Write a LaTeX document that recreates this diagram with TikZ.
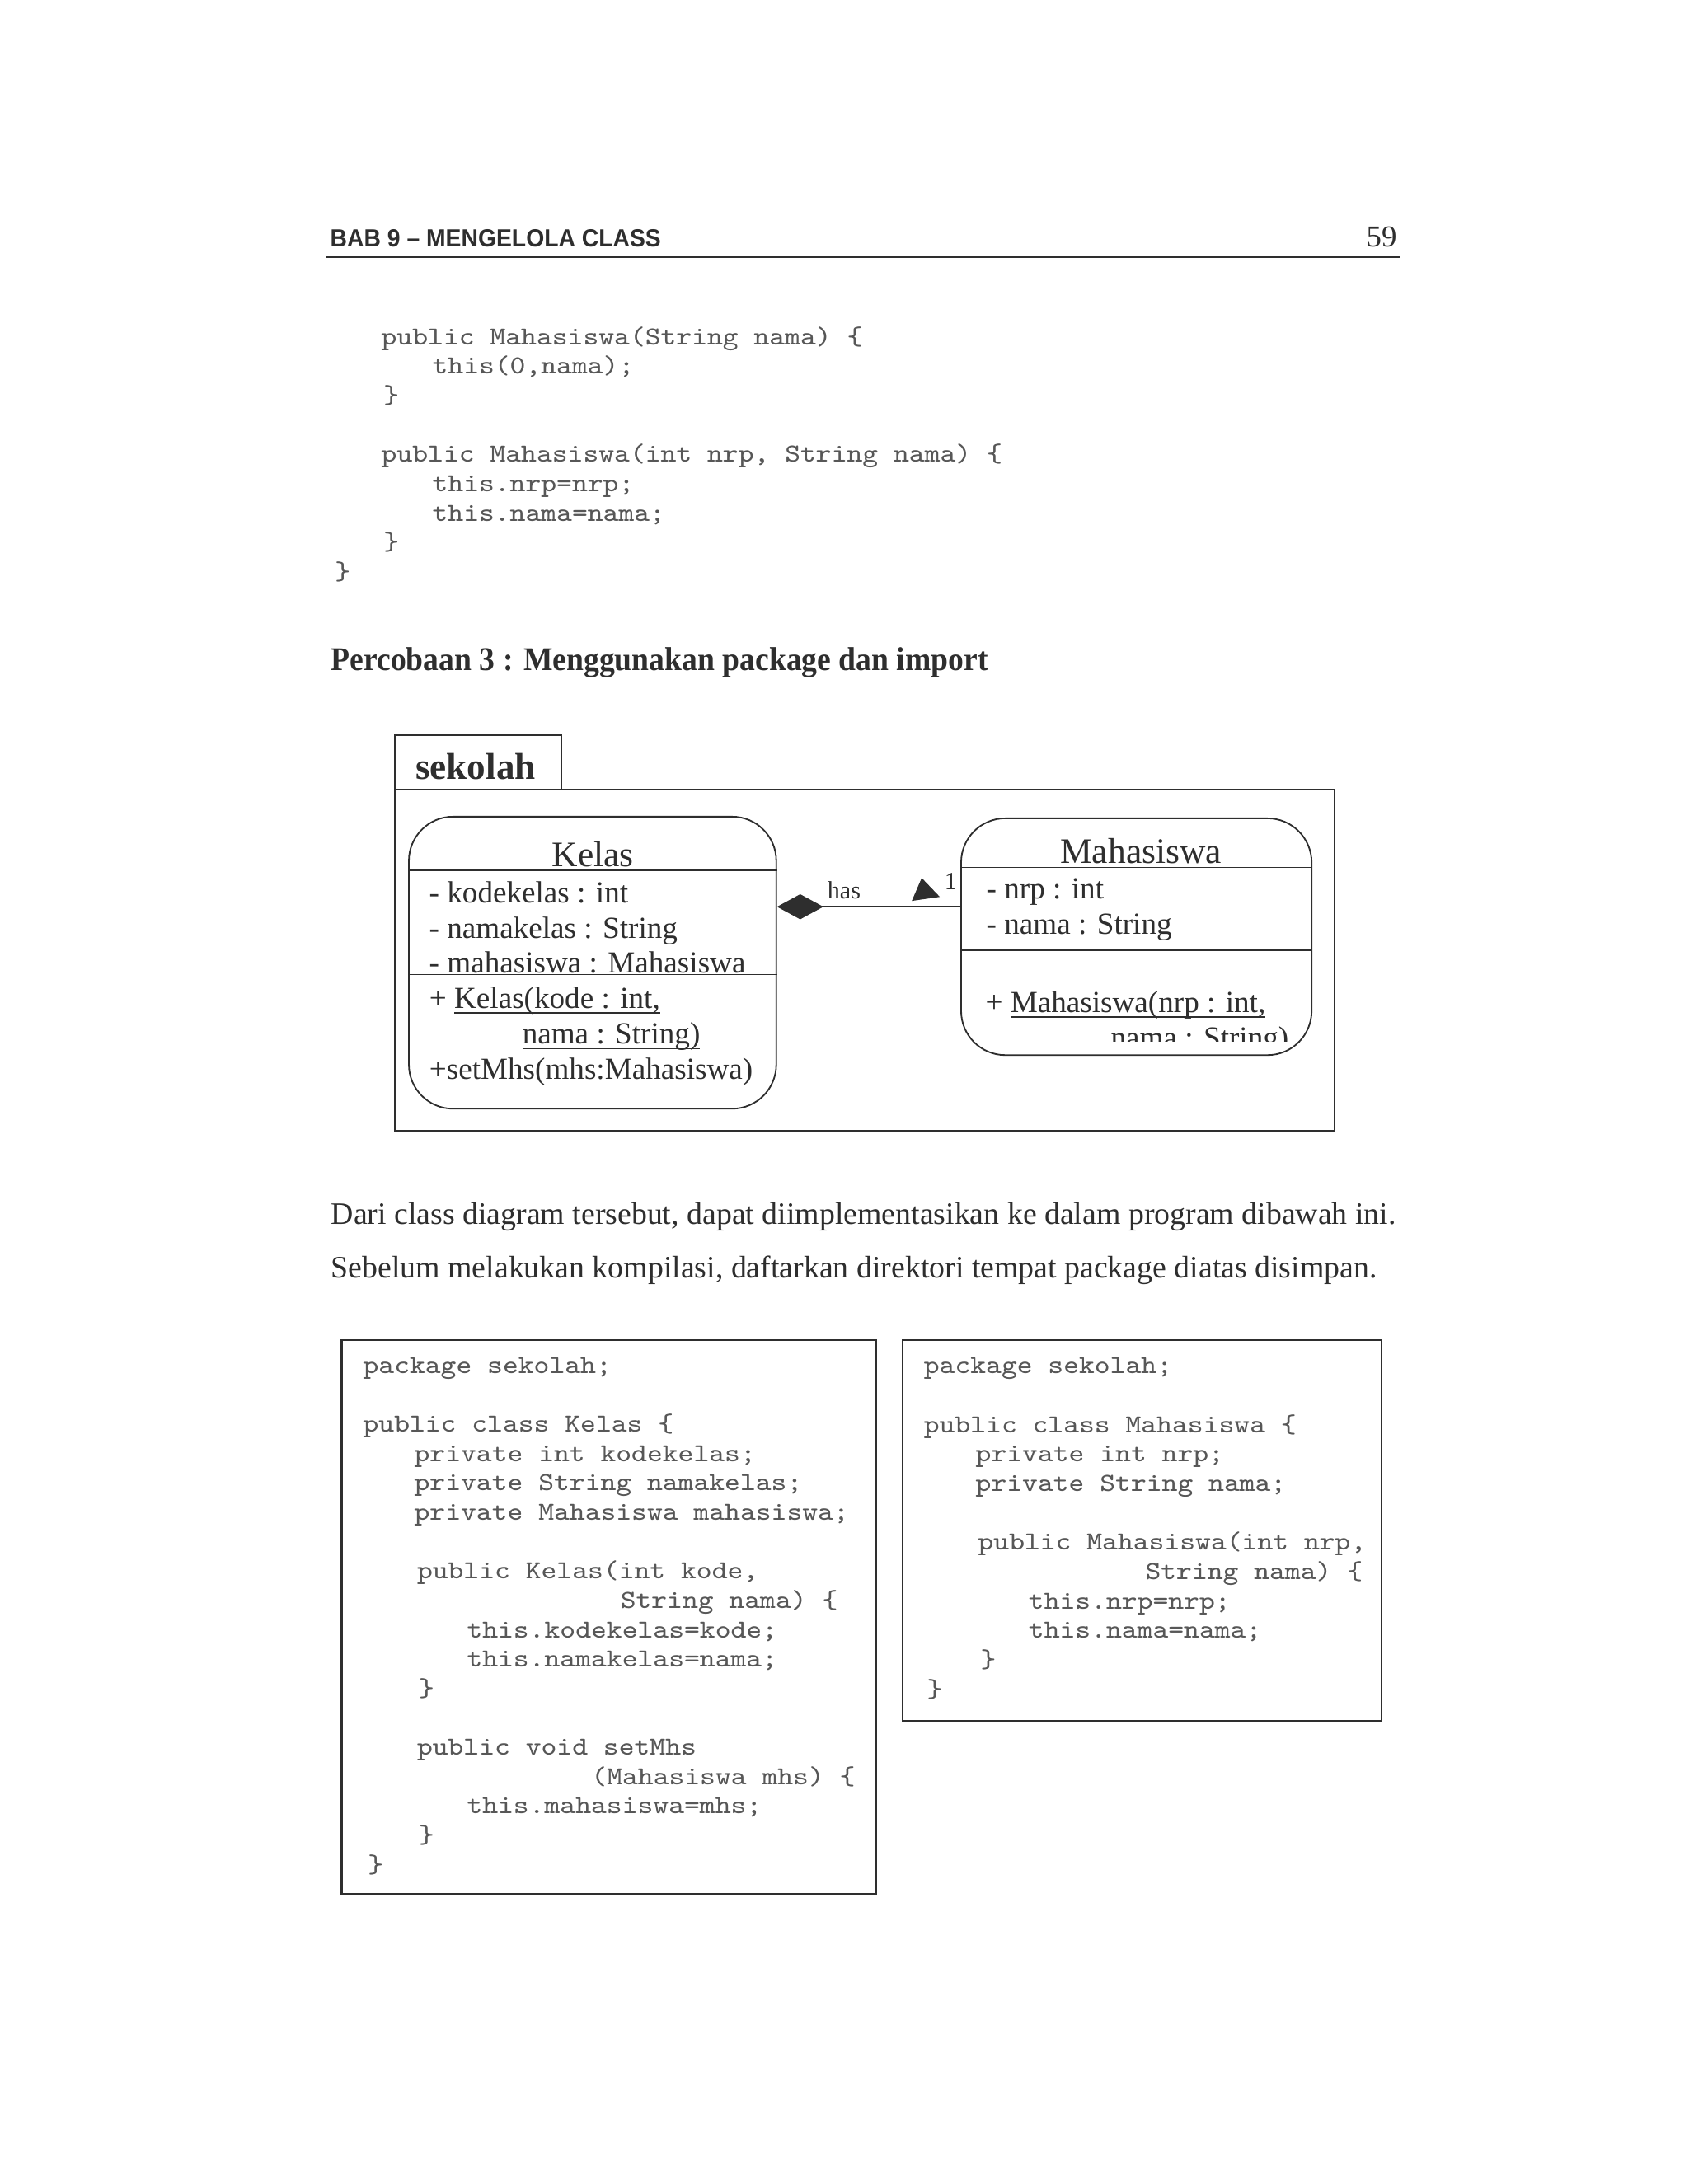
\documentclass[tikz,border=0pt]{standalone}
\usepackage{fontspec}
\setmainfont{Liberation Serif}
\newfontfamily\headsans{Liberation Sans}
\usepackage{graphicx}
\usetikzlibrary{arrows.meta, fit}

\definecolor{ink}{HTML}{2E2E2E}
\definecolor{codeink}{HTML}{575757}

\newcommand{\codefont}{\fontsize{9.4}{10}\selectfont\ttfamily}
\newcommand{\codeln}[1]{\scalebox{1.14}[1]{#1}}
\newsavebox{\ulbox}
\newcommand{\umlul}[1]{\sbox{\ulbox}{#1}\rlap{\rule[-2pt]{\wd\ulbox}{0.5pt}}\usebox{\ulbox}}

\tikzset{
  txt/.style={anchor=base west, inner sep=0pt, text=ink},
  code/.style={txt, text=codeink, font=\codefont},
  umltxt/.style={txt, font=\fontsize{11.1}{13}\selectfont},
  umltitle/.style={txt, anchor=base, font=\fontsize{13}{15}\selectfont},
  umlbox/.style={draw=ink, line width=0.55pt, rounded corners=16pt, inner sep=0pt},
  part/.style={draw=ink, line width=0.55pt},
  pkgbox/.style={draw=ink, line width=0.6pt, inner sep=0pt},
  codebox/.style={draw=ink, line width=0.7pt, inner sep=0pt},
  assoc/.style={draw=ink, line width=0.55pt, {Diamond[length=16.8pt, width=9.1pt]}-},
}

\begin{document}
\begin{tikzpicture}[x=0.50495pt, y=-0.50495pt]
\useasboundingbox (0,0) rectangle (1212,1568);

% page header
\node[txt, font=\headsans\bfseries\fontsize{9}{11}\selectfont] (hdrtitle) at (236.7,177.5)
  {\scalebox{0.94}[1]{BAB 9 – MENGELOLA CLASS}};
\node[txt, anchor=base east, font=\fontsize{11}{13}\selectfont] (hdrpage) at (1003,177.5) {59};
\draw[ink, line width=0.7pt] (234,184.6) -- (1005,184.6);

% end of the previous listing
\foreach \n/\x/\t in {1/273.4/{public Mahasiswa(String nama) \{}, 2/310/{this(0,nama);}, 3/275/{\}},
                      5/273.4/{public Mahasiswa(int nrp, String nama) \{}, 6/310/{this.nrp=nrp;},
                      7/310/{this.nama=nama;}, 8/275/{\}}, 9/240/{\}}}{
  \node[code] (top\n) at (\x,{247.4+21.1*(\n-1)}) {\codeln{\t}};
}

\node[txt, font=\bfseries\fontsize{12}{14}\selectfont] (ptitle) at (237.3,481.3)
  {\scalebox{0.937}[1]{Percobaan 3 : Menggunakan package dan import}};

% package sekolah
\node[pkgbox, fit={(283.3,527.6) (403,567.1)}] (pkgtab) {};
\node[pkgbox, fit={(283.3,567.1) (958,811.6)}] (pkg) {};
\node[txt, font=\bfseries\fontsize{13.5}{16}\selectfont] (pkgname) at (297.9,559.6) {sekolah};

% class Kelas
\node[umlbox, fit={(293.5,586.3) (557.2,796)}] (kelas) {};
\node[umltitle] (kelasname) at (425.5,622.4) {Kelas};
\draw[part] (kelas.west |- 0,624.7) -- (kelas.east |- 0,624.7);
\node[umltxt] (katt1) at (307.7,648.3) {- kodekelas : int};
\node[umltxt] (katt2) at (307.7,673.9) {- namakelas : String};
\node[umltxt] (katt3) at (307.7,698.3) {- mahasiswa : Mahasiswa};
\draw[part] (kelas.west |- 0,699.7) -- (kelas.east |- 0,699.7);
\node[umltxt] (kop1) at (307.8,723.9) {+ \umlul{Kelas(kode : int,}};
\node[umltxt] (kop2) at (374.6,749.4) {\umlul{nama : String)}};
\node[umltxt] (kop3) at (307.8,775) {+setMhs(mhs:Mahasiswa)};

% class Mahasiswa
\node[umlbox, fit={(689.9,587.5) (941.5,757.5)}] (mhs) {};
\node[umltitle] (mhsname) at (819,619.9) {Mahasiswa};
\draw[part] (mhs.west |- 0,622.8) -- (mhs.east |- 0,622.8);
\node[umltxt] (matt1) at (707.7,645.4) {- nrp : int};
\node[umltxt] (matt2) at (707.7,670.9) {- nama : String};
\draw[part] (mhs.west |- 0,682.1) -- (mhs.east |- 0,682.1);
\node[umltxt] (mop1) at (707,726.8) {+ \umlul{Mahasiswa(nrp : int,}};
\begin{scope}
  \clip (690,700) rectangle (941,747.6);
  \node[umltxt] (mop2) at (797,752.3) {\umlul{nama : String)}};
\end{scope}

% association
\draw[assoc] (kelas.east |- 0,651) -- (mhs.west |- 0,651);
\node[txt, font=\fontsize{9}{11}\selectfont] (hasname) at (593.6,645) {has};
\fill[ink] (661.6,630.3) -- (654.5,646.8) -- (674.6,643.9) -- cycle;
\node[txt, font=\fontsize{9}{11}\selectfont] (mult) at (677.6,638.5) {1};

% paragraph
\node[txt, font=\fontsize{11.3}{13}\selectfont] (par1) at (237.3,879.2)
  {Dari class diagram tersebut, dapat diimplementasikan ke dalam program dibawah ini.};
\node[txt, font=\fontsize{11.3}{13}\selectfont] (par2) at (237.3,917.3)
  {Sebelum melakukan kompilasi, daftarkan direktori tempat package diatas disimpan.};

% listing Kelas
\node[codebox, fit={(245.2,962) (628.8,1359.6)}] (kelascode) {};
\foreach \n/\x/\t in {1/260.3/{package sekolah;}, 3/260.3/{public class Kelas \{},
                      4/297/{private int kodekelas;}, 5/297/{private String namakelas;},
                      6/297/{private Mahasiswa mahasiswa;}, 8/299/{public Kelas(int kode,},
                      9/445/{String nama) \{}, 10/334.8/{this.kodekelas=kode;},
                      11/334.8/{this.namakelas=nama;}, 12/300.3/{\}}, 14/299/{public void setMhs},
                      15/424.1/{(Mahasiswa mhs) \{}, 16/334.8/{this.mahasiswa=mhs;},
                      17/300.3/{\}}, 18/263.7/{\}}}{
  \node[code] (kc\n) at (\x,{985.8+21.1*(\n-1)}) {\codeln{\t}};
}

% listing Mahasiswa
\node[codebox, fit={(648,962) (991.5,1235.7)}] (mhscode) {};
\foreach \n/\x/\t in {1/662.8/{package sekolah;}, 3/662.8/{public class Mahasiswa \{},
                      4/700/{private int nrp;}, 5/700/{private String nama;},
                      7/701.7/{public Mahasiswa(int nrp,}, 8/821.8/{String nama) \{},
                      9/738/{this.nrp=nrp;}, 10/738/{this.nama=nama;}, 11/703.5/{\}}, 12/665/{\}}}{
  \node[code] (mc\n) at (\x,{986.3+21.1*(\n-1)}) {\codeln{\t}};
}
\end{tikzpicture}
\end{document}
